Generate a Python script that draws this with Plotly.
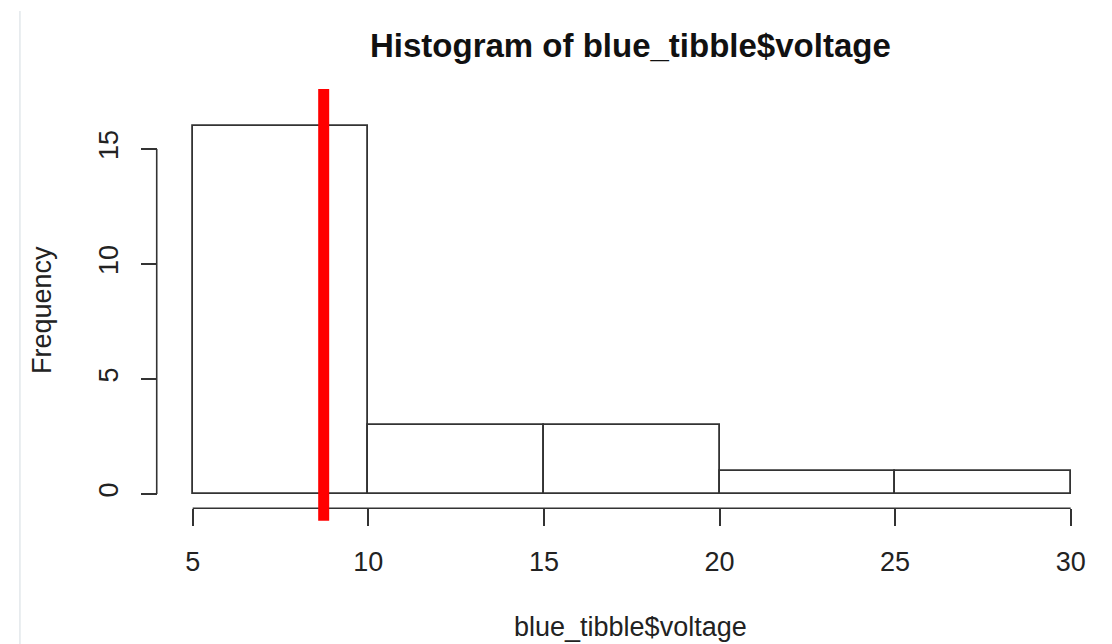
import plotly.graph_objects as go

# Histogram bins (left edges, width) and counts
bin_starts = [5, 10, 15, 20, 25]
bin_width = 5
counts = [16, 3, 3, 1, 1]

x_ticks = [5, 10, 15, 20, 25, 30]
y_ticks = [0, 5, 10, 15]

marker_x = 8.73  # vertical reference line

FONT = "Liberation Sans, Arial, Helvetica, sans-serif"
INK = "#222222"
LINE = "#333333"

centers = [s + bin_width / 2 for s in bin_starts]

fig = go.Figure()
fig.add_trace(go.Bar(
    x=centers, y=counts, width=[bin_width] * len(counts),
    marker=dict(color="white", line=dict(color=LINE, width=1.8)),
    showlegend=False, hoverinfo="x+y",
))

Y_AXIS_POS = 0.093
X_AXIS_POS = 0.0689

fig.update_layout(
    width=1112, height=644,
    margin=dict(l=60, r=12, t=80, b=104),
    paper_bgcolor="white", plot_bgcolor="white",
    font=dict(family=FONT, size=27, color=INK),
    bargap=0,
    xaxis=dict(
        range=[1.222, 30.834], showgrid=False, zeroline=False, showline=False,
        tickmode="array", tickvals=x_ticks, ticktext=[str(v) for v in x_ticks],
        ticks="outside", ticklen=17, tickwidth=1.6, tickcolor=LINE,
        anchor="free", position=X_AXIS_POS, ticklabelstandoff=12,
        tickfont=dict(size=27, color=INK, family=FONT),
    ),
    yaxis=dict(
        range=[-2, 18], showgrid=False, zeroline=False, showline=False,
        tickmode="array", tickvals=y_ticks, ticktext=[str(v) for v in y_ticks],
        ticks="outside", ticklen=16, tickwidth=1.6, tickcolor=LINE,
        anchor="free", position=Y_AXIS_POS, tickangle=-90, ticklabelstandoff=12,
        tickfont=dict(size=27, color=INK, family=FONT),
    ),
)

# Axis lines spanning only the tick range
fig.add_shape(type="line", xref="x", yref="paper",
              x0=x_ticks[0], x1=x_ticks[-1], y0=X_AXIS_POS, y1=X_AXIS_POS,
              line=dict(color=LINE, width=1.6))
fig.add_shape(type="line", xref="paper", yref="y",
              x0=Y_AXIS_POS, x1=Y_AXIS_POS, y0=y_ticks[0], y1=y_ticks[-1],
              line=dict(color=LINE, width=1.6))

# Red vertical marker
fig.add_shape(type="line", xref="x", yref="y",
              x0=marker_x, x1=marker_x, y0=-1.16, y1=17.61,
              line=dict(color="#ff0000", width=11))

# Thin frame line on the left edge
fig.add_shape(type="line", xref="paper", yref="paper",
              x0=-0.0385, x1=-0.0385, y0=1.15, y1=-0.23,
              line=dict(color="#d3dbe0", width=1))

# Title and axis titles
fig.add_annotation(text="<b>Histogram of blue_tibble$voltage</b>",
                   xref="paper", yref="paper", x=0.549, y=1.076,
                   xanchor="center", yanchor="middle", showarrow=False,
                   font=dict(size=33, color="#111111", family=FONT))
fig.add_annotation(text="blue_tibble$voltage",
                   xref="paper", yref="paper", x=0.549, y=-0.189,
                   xanchor="center", yanchor="middle", showarrow=False,
                   font=dict(size=27, color=INK, family=FONT))
fig.add_annotation(text="Frequency",
                   xref="paper", yref="paper", x=-0.0173, y=0.5,
                   xanchor="center", yanchor="middle", showarrow=False,
                   textangle=-90,
                   font=dict(size=27, color=INK, family=FONT))

fig.write_html("out.html")
